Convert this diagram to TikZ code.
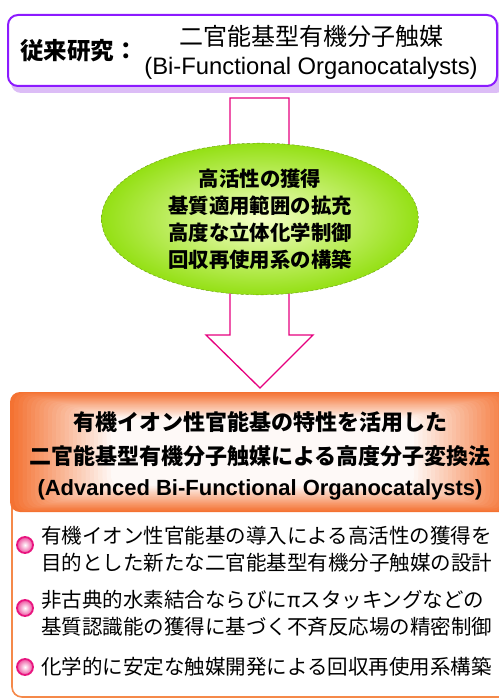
\documentclass[tikz,border=0pt]{standalone}
\usepackage{fontspec}
\setmainfont{Liberation Sans}
\newfontfamily\jp{Noto Sans CJK JP}
\usetikzlibrary{shapes.geometric}
\definecolor{pur}{HTML}{8C1AFF}
\definecolor{purshadow}{HTML}{DCBDF6}
\definecolor{mag}{HTML}{E6007E}
\definecolor{org}{HTML}{F47232}
\definecolor{orgline}{HTML}{F5894A}
\definecolor{grn}{HTML}{94E014}
\definecolor{grnlight}{HTML}{F6FFC8}
\definecolor{pinkb}{HTML}{E8157F}
\tikzset{
  bigarrow/.style={draw=mag, line width=1.3pt, fill=white},
  bullet/.style={circle, draw=pinkb, line width=1.8pt, minimum size=16pt, inner sep=0pt, inner color=white, outer color=pinkb!75},
  bultext/.style={anchor=west, align=left, inner sep=0pt, font=\jp\fontsize{20.5}{27}\selectfont},
}
\begin{document}
\begin{tikzpicture}[x=1pt,y=-1pt]
\useasboundingbox (0,0) rectangle (498,700);
% top box
\fill[purshadow, rounded corners=10pt] (11,22) rectangle (506,93);
\node[draw=pur, line width=2pt, fill=white, rounded corners=10pt, minimum width=489pt, minimum height=71pt, inner sep=0pt] (top) at (252.5,50.5) {};
\node[anchor=west, inner sep=0pt, font=\jp\bfseries\fontsize{23.5}{23.5}\selectfont] (prev) at (20,51) {従来研究：};
\node[inner sep=0pt, font=\jp\fontsize{24}{24}\selectfont] (titlejp) at (311,36) {二官能基型有機分子触媒};
\node[inner sep=0pt, font=\fontsize{23.8}{24}\selectfont] (titleen) at (311,68) {(Bi-Functional Organocatalysts)};
% block arrow
\draw[bigarrow] (230,98) -- (289,98) -- (289,335) -- (313,335) -- (260,388) -- (206,335) -- (230,335) -- cycle;
\coordinate (arrtip) at (260,388);
% ellipse
\node[ellipse, minimum width=317pt, minimum height=142pt, inner color=grnlight, outer color=grn, draw=grn!70!black, densely dashed, line width=0.4pt, align=center, font=\jp\bfseries\fontsize{20.4}{27}\selectfont] (goal) at (260,219)
 {高活性の獲得\\基質適用範囲の拡充\\高度な立体化学制御\\回収再使用系の構築};
% bottom white box
\draw[orgline, line width=1.6pt, fill=white, rounded corners=10pt] (12,490) rectangle (530,697);
% header gradient
\foreach \i in {0,...,24}{
  \pgfmathsetmacro\dx{4.2*\i}
  \pgfmathsetmacro\dy{1.1*\i}
  \pgfmathsetmacro\cc{100-4*\i}
  \fill[org!\cc!white, rounded corners=10pt] (10+\dx,392+\dy) rectangle (515-\dx,512-\dy);
}
\node[inner sep=0pt, align=center, font=\jp\bfseries\fontsize{22}{34.5}\selectfont] (adv) at (260,439) {有機イオン性官能基の特性を活用した\\二官能基型有機分子触媒による高度分子変換法};
\node[inner sep=0pt, font=\bfseries\fontsize{22}{22}\selectfont] (adven) at (260,490) {(Advanced Bi-Functional Organocatalysts)};
% bullets
\node[bullet] (b1) at (25,545) {};
\node[bultext] (t1) at (41,549.5) {有機イオン性官能基の導入による高活性の獲得を\\目的とした新たな二官能基型有機分子触媒の設計};
\node[bullet] (b2) at (25,608) {};
\node[bultext] (t2) at (41,613) {非古典的水素結合ならびにπスタッキングなどの\\基質認識能の獲得に基づく不斉反応場の精密制御};
\node[bullet] (b3) at (25,667) {};
\node[bultext] (t3) at (41,667) {化学的に安定な触媒開発による回収再使用系構築};
\end{tikzpicture}
\end{document}
